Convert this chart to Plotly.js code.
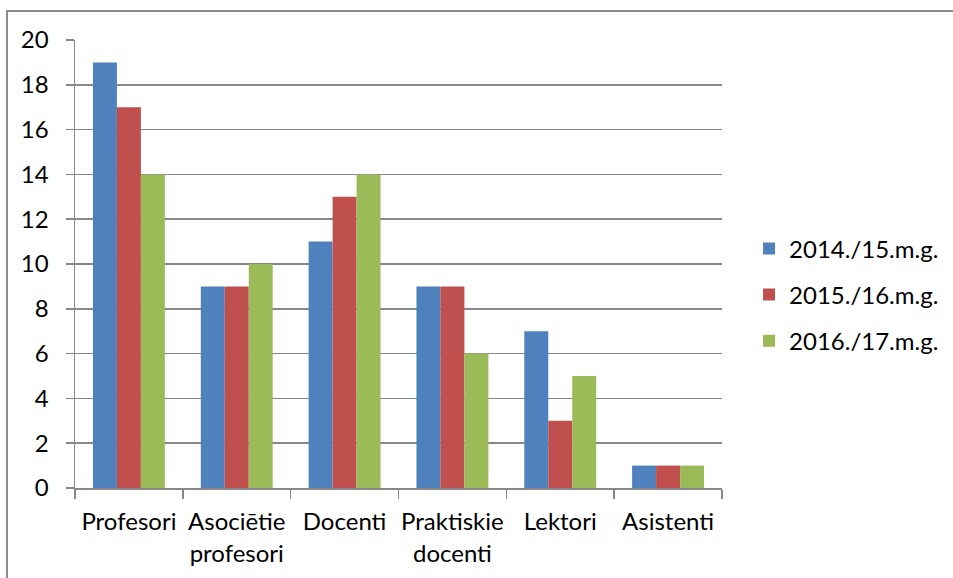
<!DOCTYPE html>
<html>
<head>
<meta charset="utf-8">
<script src="https://cdn.plot.ly/plotly-3.0.1.min.js"></script>
<style>
  html, body { margin: 0; padding: 0; background: #fff; }
  #wrap { position: relative; width: 953px; height: 578px; }
  #chart { position: absolute; left: 0; top: 0; width: 953px; height: 578px; }
  #frame { position: absolute; left: 6px; top: 10px; right: 0; bottom: 0;
           border-left: 2px solid #8c8c8c; border-top: 2px solid #8c8c8c; pointer-events: none; }
</style>
</head>
<body>
<div id="wrap">
  <div id="chart"></div>
  <div id="frame"></div>
</div>
<script>
const categories = ["Profesori", "Asociētie<br>profesori", "Docenti", "Praktiskie<br>docenti", "Lektori", "Asistenti"];
const seriesNames = ["2014./15.m.g.", "2015./16.m.g.", "2016./17.m.g."];
const values2014 = [19, 9, 11, 9, 7, 1];
const values2015 = [17, 9, 13, 9, 3, 1];
const values2016 = [14, 10, 14, 6, 5, 1];
const colors = ["#4F81BD", "#C0504D", "#9BBB59"];
const yTicks = [0, 2, 4, 6, 8, 10, 12, 14, 16, 18, 20];

const allValues = [values2014, values2015, values2016];
const traces = allValues.map((v, i) => ({
  type: "bar",
  name: seriesNames[i],
  x: categories,
  y: v,
  marker: { color: colors[i], line: { width: 0 } },
  legendgroup: "g" + i,
  hoverinfo: "x+y+name"
}));

const font = { family: "Lato, 'Open Sans', sans-serif", size: 24, color: "#000" };
const gridColor = "#878787";

const layout = {
  width: 953, height: 578,
  margin: { l: 75, r: 231, t: 40, b: 90, pad: 0 },
  paper_bgcolor: "#fff", plot_bgcolor: "#fff",
  font: font,
  barmode: "group",
  bargap: 0.333,
  bargroupgap: 0,
  showlegend: true,
  legend: {
    xref: "container", yref: "container",
    x: 0.786, y: 0.49, xanchor: "left", yanchor: "middle",
    traceorder: "grouped", tracegroupgap: 12,
    font: font, bgcolor: "rgba(0,0,0,0)"
  },
  xaxis: {
    type: "category",
    tickson: "boundaries",
    tickangle: 0,
    ticks: "outside", ticklen: 9, tickwidth: 1.5, tickcolor: gridColor,
    showline: true, linecolor: gridColor, linewidth: 1.5,
    showgrid: false, zeroline: false,
    ticklabelstandoff: 12,
    tickfont: font,
    automargin: false
  },
  yaxis: {
    range: [0, 20],
    tickvals: yTicks,
    ticktext: yTicks.map(String),
    ticks: "outside", ticklen: 8, tickwidth: 1.5, tickcolor: gridColor,
    showline: true, linecolor: gridColor, linewidth: 1.5,
    showgrid: true, gridcolor: gridColor, gridwidth: 1.5,
    zeroline: false,
    ticklabelstandoff: 12,
    tickfont: font,
    automargin: false
  }
};

Plotly.newPlot("chart", traces, layout, { displayModeBar: false, staticPlot: true });
</script>
</body>
</html>
